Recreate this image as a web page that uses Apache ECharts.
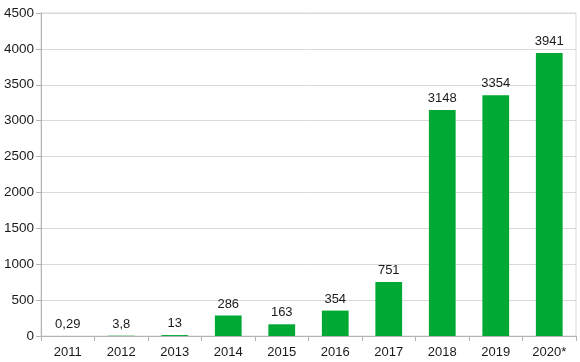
<!DOCTYPE html>
<html><head><meta charset="utf-8">
<script src="https://cdn.jsdelivr.net/npm/echarts@6/dist/echarts.min.js"></script>
<style>html,body{margin:0;padding:0;background:#fff}#c{width:580px;height:362px}</style>
</head><body><div id="c"></div>
<script>
const categories = ['2011','2012','2013','2014','2015','2016','2017','2018','2019','2020*'];
const values = [0.29, 3.8, 13, 286, 163, 354, 751, 3148, 3354, 3941];
const yTicks = [0, 500, 1000, 1500, 2000, 2500, 3000, 3500, 4000, 4500];

const chart = echarts.init(document.getElementById('c'), null, {renderer: 'canvas'});
chart.setOption({
  animation: false,
  grid: {left: 41, right: 4, top: 13, bottom: 26, containLabel: false, show: true, borderColor: '#d9d9d9', borderWidth: 1},
  xAxis: {
    type: 'category', data: categories,
    axisLine: {show: true, lineStyle: {color: '#b3b3b3'}},
    axisTick: {show: true, alignWithLabel: false, length: 5, lineStyle: {color: '#b3b3b3'}},
    axisLabel: {color: '#1a1a1a', fontSize: 13, fontFamily: 'Liberation Sans', margin: 10}
  },
  yAxis: {
    type: 'value', min: yTicks[0], max: yTicks[yTicks.length-1], interval: 500,
    axisLine: {show: true, lineStyle: {color: '#b3b3b3'}},
    axisTick: {show: true, length: 5, inside: false, lineStyle: {color: '#b3b3b3'}},
    axisLabel: {color: '#1a1a1a', fontSize: 13.5, fontFamily: 'Liberation Sans', margin: 7, formatter: v => String(v)},
    splitLine: {show: true, lineStyle: {color: '#d9d9d9'}}
  },
  series: [{
    type: 'bar', data: values, barWidth: '50%',
    itemStyle: {color: '#00a933'},
    label: {show: true, position: 'top', distance: 5, color: '#1a1a1a', fontSize: 13, fontFamily: 'Liberation Sans',
      formatter: p => String(p.value).replace('.', ',')}
  }]
});
</script></body></html>
